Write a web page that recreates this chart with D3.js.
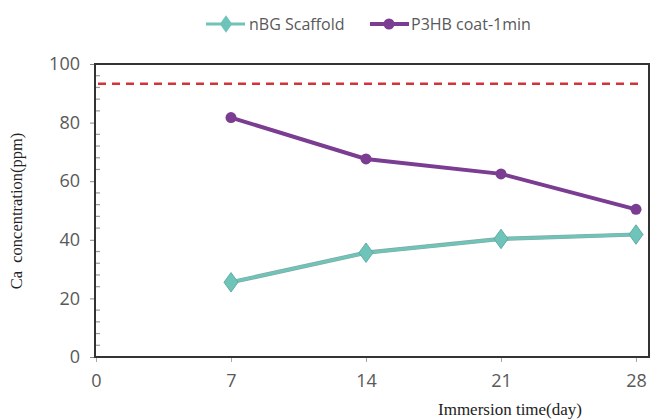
<!DOCTYPE html>
<html>
<head>
<meta charset="utf-8">
<script src="https://cdn.jsdelivr.net/npm/d3@7"></script>
<style>
  body { margin: 0; background: #fff; }
  svg { display: block; }
</style>
</head>
<body>
<svg id="chart"></svg>
<script>
// data
var days = [7, 14, 21, 28];
var nbgScaffold = [25.5, 35.6, 40.3, 41.8];
var p3hbCoat = [81.7, 67.6, 62.5, 50.4];
var referenceLevel = 93.3;
var xTicks = [0, 7, 14, 21, 28];
var yTicks = [0, 20, 40, 60, 80, 100];

var w = 652, h = 419;
var svg = d3.select("#chart").attr("width", w).attr("height", h);

// plot frame edges
var plotL = 95, plotR = 649, plotT = 64, plotB = 357;

var x = d3.scaleLinear().domain([0, 28]).range([96, 636]);
var y = d3.scaleLinear().domain([0, 100]).range([plotB, plotT]);

var teal = "#6fc4b9", purple = "#7a3d92", red = "#d2343c";
var sans = "'Open Sans', sans-serif", serif = "'Liberation Serif', serif";

// minor ticks on y axis (inside the plot)
svg.selectAll(".minor")
    .data(d3.range(0, 100, 4).filter(function(v) { return v % 20 !== 0; }))
    .enter().append("line")
    .attr("x1", plotL).attr("x2", plotL + 5)
    .attr("y1", function(d) { return y(d); })
    .attr("y2", function(d) { return y(d); })
    .attr("stroke", "#999").attr("stroke-width", 1.2);

// y axis
var yAxis = svg.append("g")
    .attr("transform", "translate(" + plotL + ",0)")
    .call(d3.axisLeft(y).tickValues(yTicks).tickSize(5).tickPadding(10));
yAxis.select(".domain").remove();
yAxis.selectAll(".tick line").attr("stroke", "#888");
yAxis.selectAll("text")
    .attr("fill", "#595959")
    .style("font-family", sans)
    .style("font-size", "18px");

// x axis
var xAxis = svg.append("g")
    .attr("transform", "translate(0," + plotB + ")")
    .call(d3.axisBottom(x).tickValues(xTicks).tickSize(5).tickPadding(12));
xAxis.select(".domain").remove();
xAxis.selectAll(".tick line").attr("stroke", "#aaa");
xAxis.selectAll("text")
    .attr("fill", "#595959")
    .style("font-family", sans)
    .style("font-size", "18px");

// frame
svg.append("rect")
    .attr("x", plotL).attr("y", plotT)
    .attr("width", plotR - plotL).attr("height", plotB - plotT)
    .attr("fill", "none").attr("stroke", "#333").attr("stroke-width", 2);

// reference dashed line
svg.append("line")
    .attr("x1", plotL + 3).attr("x2", plotR - 6)
    .attr("y1", y(referenceLevel)).attr("y2", y(referenceLevel))
    .attr("stroke", red).attr("stroke-width", 2.5)
    .attr("stroke-dasharray", "8,6");

var line = d3.line()
    .x(function(d) { return x(d[0]); })
    .y(function(d) { return y(d[1]); });

var nbgData = days.map(function(d, i) { return [d, nbgScaffold[i]]; });
var p3hbData = days.map(function(d, i) { return [d, p3hbCoat[i]]; });

svg.append("path").datum(p3hbData)
    .attr("d", line).attr("fill", "none")
    .attr("stroke", purple).attr("stroke-width", 4);
svg.selectAll(".p3hb").data(p3hbData).enter().append("circle")
    .attr("cx", function(d) { return x(d[0]); })
    .attr("cy", function(d) { return y(d[1]); })
    .attr("r", 5.5).attr("fill", purple);

svg.append("path").datum(nbgData)
    .attr("d", line).attr("fill", "none")
    .attr("stroke", "#86a8a3").attr("stroke-width", 4.2);
svg.append("path").datum(nbgData)
    .attr("d", line).attr("fill", "none")
    .attr("stroke", teal).attr("stroke-width", 3);
var diamond = d3.symbol().type(d3.symbolDiamond).size(110);
svg.selectAll(".nbg").data(nbgData).enter().append("path")
    .attr("d", diamond)
    .attr("transform", function(d) { return "translate(" + x(d[0]) + "," + y(d[1]) + ") scale(1.25,1)"; })
    .attr("fill", teal).attr("stroke", "#5aa89e").attr("stroke-width", 0.8);

// legend
var legend = svg.append("g");
legend.append("line").attr("x1", 206).attr("x2", 245).attr("y1", 24).attr("y2", 24)
    .attr("stroke", teal).attr("stroke-width", 3);
legend.append("path").attr("d", diamond)
    .attr("transform", "translate(226,24) scale(1.1,0.9)").attr("fill", teal);
legend.append("text").attr("x", 249).attr("y", 30).text("nBG Scaffold")
    .attr("fill", "#595959").style("font-family", sans).style("font-size", "16px");
legend.append("line").attr("x1", 370).attr("x2", 409).attr("y1", 24).attr("y2", 24)
    .attr("stroke", purple).attr("stroke-width", 4);
legend.append("circle").attr("cx", 389).attr("cy", 24).attr("r", 5.5).attr("fill", purple);
legend.append("text").attr("x", 411).attr("y", 30).text("P3HB coat-1min")
    .attr("fill", "#595959").style("font-family", sans).style("font-size", "16px");

// axis titles
svg.append("text")
    .attr("transform", "translate(22,211) rotate(-90)")
    .attr("text-anchor", "middle")
    .style("font-family", serif).style("font-size", "16.5px")
    .attr("fill", "#222")
    .text("Ca\u00a0\u00a0concentration(ppm)");
svg.append("text")
    .attr("x", 510).attr("y", 415)
    .attr("text-anchor", "middle")
    .style("font-family", serif).style("font-size", "17px")
    .attr("fill", "#222")
    .text("Immersion time(day)");
</script>
</body>
</html>
